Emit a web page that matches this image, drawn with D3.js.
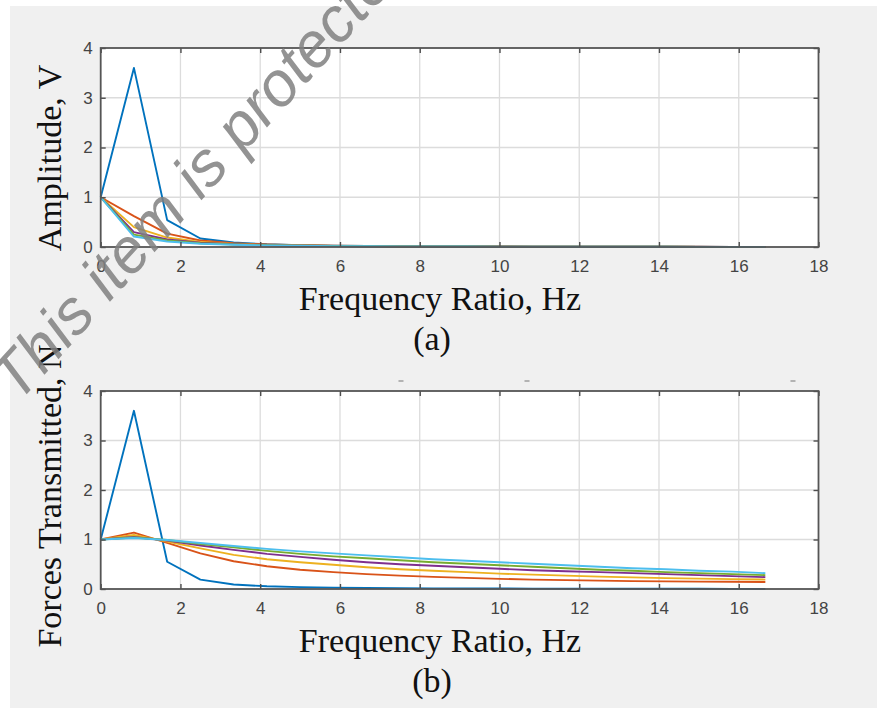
<!DOCTYPE html>
<html>
<head>
<meta charset="utf-8">
<script src="https://cdn.jsdelivr.net/npm/d3@7"></script>
<style>
  html, body { margin: 0; padding: 0; background: #ffffff; }
  svg { display: block; }
</style>
</head>
<body>
<svg id="chart" width="877" height="708"></svg>
<script>
// Frequency ratio samples shared by both panels
const freqRatio = [0, 0.833, 1.667, 2.5, 3.333, 4.167, 5, 5.833, 6.667, 7.5, 8.333,
                   9.167, 10, 10.833, 11.667, 12.5, 13.333, 14.167, 15, 15.833, 16.667];

// (a) Amplitude, V
const ampBlue   = [1, 3.6, 0.54, 0.17, 0.09, 0.055, 0.037, 0.027, 0.02, 0.016, 0.013, 0.011, 0.009, 0.008, 0.007, 0.006, 0.005, 0.0045, 0.004, 0.0035, 0.003];
const ampOrange = [1, 0.62, 0.27, 0.13, 0.075, 0.05, 0.035, 0.026, 0.02, 0.016, 0.013, 0.011, 0.009, 0.008, 0.007, 0.006, 0.005, 0.0045, 0.004, 0.0035, 0.003];
const ampYellow = [1, 0.40, 0.19, 0.10, 0.06, 0.04, 0.03, 0.022, 0.017, 0.014, 0.011, 0.009, 0.008, 0.007, 0.006, 0.005, 0.0045, 0.004, 0.0035, 0.003, 0.003];
const ampPurple = [1, 0.30, 0.15, 0.085, 0.055, 0.038, 0.028, 0.021, 0.016, 0.013, 0.011, 0.009, 0.008, 0.007, 0.006, 0.005, 0.0045, 0.004, 0.0035, 0.003, 0.003];
const ampGreen  = [1, 0.25, 0.13, 0.075, 0.05, 0.035, 0.026, 0.02, 0.015, 0.012, 0.01, 0.009, 0.008, 0.007, 0.006, 0.005, 0.0045, 0.004, 0.0035, 0.003, 0.003];
const ampCyan   = [1, 0.21, 0.11, 0.065, 0.045, 0.032, 0.024, 0.018, 0.014, 0.012, 0.01, 0.009, 0.008, 0.007, 0.006, 0.005, 0.0045, 0.004, 0.0035, 0.003, 0.003];

// (b) Forces Transmitted, N
const trBlue   = [1, 3.6, 0.55, 0.19, 0.09, 0.055, 0.037, 0.027, 0.02, 0.016, 0.013, 0.011, 0.009, 0.008, 0.007, 0.006, 0.005, 0.0045, 0.004, 0.0035, 0.003];
const trOrange = [1, 1.14, 0.93, 0.72, 0.56, 0.46, 0.39, 0.34, 0.30, 0.27, 0.245, 0.225, 0.205, 0.19, 0.18, 0.17, 0.16, 0.155, 0.15, 0.145, 0.14];
const trYellow = [1, 1.09, 0.96, 0.82, 0.69, 0.60, 0.54, 0.49, 0.44, 0.40, 0.37, 0.34, 0.31, 0.29, 0.27, 0.25, 0.235, 0.22, 0.21, 0.20, 0.19];
const trPurple = [1, 1.05, 0.98, 0.88, 0.79, 0.71, 0.65, 0.59, 0.54, 0.50, 0.47, 0.44, 0.41, 0.38, 0.36, 0.34, 0.32, 0.30, 0.28, 0.26, 0.24];
const trGreen  = [1, 1.04, 0.99, 0.91, 0.84, 0.77, 0.71, 0.66, 0.62, 0.58, 0.54, 0.51, 0.48, 0.45, 0.42, 0.39, 0.37, 0.34, 0.32, 0.30, 0.28];
const trCyan   = [1, 1.03, 0.99, 0.93, 0.87, 0.81, 0.76, 0.72, 0.68, 0.64, 0.60, 0.57, 0.54, 0.51, 0.48, 0.45, 0.42, 0.40, 0.37, 0.35, 0.32];

const seriesColors = ["#0072BD", "#D95319", "#EDB120", "#7E2F8E", "#77AC30", "#4DBEEE"];
const xTicks = [0, 2, 4, 6, 8, 10, 12, 14, 16, 18];
const yTicks = [0, 1, 2, 3, 4];

const panels = [
  { top: 48,  bottom: 247, labelY: 158, ylabel: "Amplitude, V",          caption: "(a)",
    series: [ampBlue, ampOrange, ampYellow, ampPurple, ampGreen, ampCyan] },
  { top: 391, bottom: 589, labelY: 496, ylabel: "Forces Transmitted, N", caption: "(b)",
    series: [trBlue, trOrange, trYellow, trPurple, trGreen, trCyan] }
];

const svg = d3.select("#chart");

// figure background
svg.append("rect").attr("x", 10).attr("y", 6).attr("width", 867).attr("height", 702)
  .attr("fill", "#f0f0f0");

const x = d3.scaleLinear().domain([0, 18]).range([100.7, 818.5]);

panels.forEach(p => {
  const y = d3.scaleLinear().domain([0, 4]).range([p.bottom, p.top]);
  const g = svg.append("g");

  // plot area
  g.append("rect").attr("x", x(0)).attr("y", y(4))
    .attr("width", x(18) - x(0)).attr("height", y(0) - y(4)).attr("fill", "#ffffff");

  // grid
  g.append("g").selectAll("line").data(xTicks.slice(1, -1)).join("line")
    .attr("x1", d => x(d)).attr("x2", d => x(d)).attr("y1", y(0)).attr("y2", y(4))
    .attr("stroke", "#dcdcdc").attr("stroke-width", 1.3);
  g.append("g").selectAll("line").data(yTicks.slice(1, -1)).join("line")
    .attr("x1", x(0)).attr("x2", x(18)).attr("y1", d => y(d)).attr("y2", d => y(d))
    .attr("stroke", "#dcdcdc").attr("stroke-width", 1.3);

  // data lines
  const line = d3.line().x((d, i) => x(freqRatio[i])).y(d => y(d));
  p.series.forEach((s, k) => {
    g.append("path").datum(s).attr("d", line).attr("fill", "none")
      .attr("stroke", seriesColors[k]).attr("stroke-width", 1.9)
      .attr("stroke-linejoin", "round");
  });

  // axes with inward ticks
  const styleAxis = sel => {
    sel.select(".domain").remove();
    sel.selectAll(".tick line").attr("stroke", "#4d4d4d").attr("stroke-width", 1.4);
    sel.selectAll("text").attr("fill", "#444")
      .style("font-family", "'Liberation Sans', Arial, sans-serif").style("font-size", "17px");
  };
  const fmt = d3.format("d");
  g.append("g").attr("transform", `translate(0,${y(0)})`)
    .call(d3.axisBottom(x).tickValues(xTicks).tickFormat(fmt).tickSizeInner(-5).tickSizeOuter(0).tickPadding(13))
    .call(styleAxis);
  g.append("g").attr("transform", `translate(${x(0)},0)`)
    .call(d3.axisLeft(y).tickValues(yTicks).tickFormat(fmt).tickSizeInner(-5).tickSizeOuter(0).tickPadding(8))
    .call(styleAxis);
  g.append("g").attr("transform", `translate(0,${y(4)})`)
    .call(d3.axisTop(x).tickValues(xTicks).tickSizeInner(-5).tickSizeOuter(0).tickFormat(""))
    .call(styleAxis);
  g.append("g").attr("transform", `translate(${x(18)},0)`)
    .call(d3.axisRight(y).tickValues(yTicks).tickSizeInner(-5).tickSizeOuter(0).tickFormat(""))
    .call(styleAxis);

  // axes box
  g.append("rect").attr("x", x(0)).attr("y", y(4))
    .attr("width", x(18) - x(0)).attr("height", y(0) - y(4))
    .attr("fill", "none").attr("stroke", "#555").attr("stroke-width", 1.8);

  // labels
  const serif = "'Liberation Serif', 'Times New Roman', serif";
  g.append("text")
    .attr("transform", `translate(61,${p.labelY}) rotate(-90)`)
    .attr("text-anchor", "middle").attr("fill", "#111")
    .style("font-family", serif).style("font-size", "34px").text(p.ylabel);
  g.append("text").attr("x", 440).attr("y", p.bottom + 63)
    .attr("text-anchor", "middle").attr("fill", "#111")
    .style("font-family", serif).style("font-size", "34px").text("Frequency Ratio, Hz");
  g.append("text").attr("x", 432).attr("y", p.bottom + 103)
    .attr("text-anchor", "middle").attr("fill", "#111")
    .style("font-family", serif).style("font-size", "34px").text(p.caption);
});

// faint dashes above the lower panel
const dashX = [7.53, 10.69, 17.36];
svg.append("g").selectAll("line").data(dashX).join("line")
  .attr("x1", d => x(d) - 2.5).attr("x2", d => x(d) + 2.5)
  .attr("y1", 381).attr("y2", 381).attr("stroke", "#8a8a8a").attr("stroke-width", 1.2);

// watermark
svg.append("text")
  .attr("transform", "translate(18,404) rotate(-48)")
  .attr("fill", "#808080").attr("fill-opacity", 0.85)
  .style("font-family", "'Liberation Sans', Arial, sans-serif")
  .style("font-style", "italic").style("font-size", "63px")
  .text("This item is protected");
</script>
</body>
</html>
